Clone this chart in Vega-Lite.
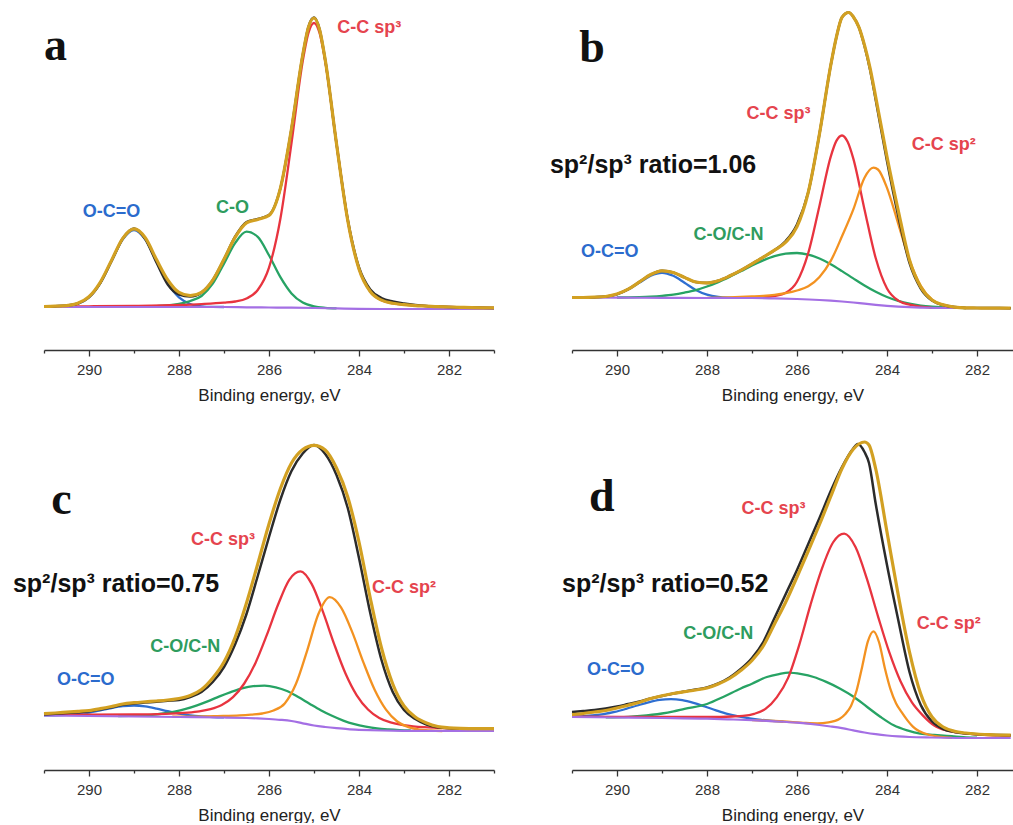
{
"$schema": "https://vega.github.io/schema/vega-lite/v6.json",
"padding": {"left": 12, "top": 6, "right": 0, "bottom": 0},
"background": "white",
"config": {"view": {"stroke": null}, "font": "Liberation Sans"},
"columns": 2,
"spacing": {"row": 80, "column": 78},
"bounds": "flush",
"datasets": {
"curves": [
{"p":"a","s":"bg","e":291,"v":43},{"p":"a","s":"bg","e":290,"v":43},{"p":"a","s":"bg","e":289,"v":43},{"p":"a","s":"bg","e":288,"v":43},{"p":"a","s":"bg","e":287,"v":43},{"p":"a","s":"bg","e":286.5,"v":42.7},{"p":"a","s":"bg","e":286,"v":42.5},{"p":"a","s":"bg","e":285.5,"v":42.3},{"p":"a","s":"bg","e":285,"v":42},{"p":"a","s":"bg","e":284.5,"v":41.6},{"p":"a","s":"bg","e":284,"v":41.2},{"p":"a","s":"bg","e":283.5,"v":41},{"p":"a","s":"bg","e":282,"v":41},{"p":"a","s":"bg","e":281,"v":41},
{"p":"a","s":"occ","e":290.75,"v":43.1},{"p":"a","s":"occ","e":290.5,"v":43.7},{"p":"a","s":"occ","e":290.25,"v":46},{"p":"a","s":"occ","e":290,"v":52.6},{"p":"a","s":"occ","e":289.75,"v":66.9},{"p":"a","s":"occ","e":289.5,"v":88.7},{"p":"a","s":"occ","e":289.25,"v":110.6},{"p":"a","s":"occ","e":289,"v":120},{"p":"a","s":"occ","e":288.75,"v":110.6},{"p":"a","s":"occ","e":288.5,"v":88.7},{"p":"a","s":"occ","e":288.25,"v":66.9},{"p":"a","s":"occ","e":288,"v":52.6},{"p":"a","s":"occ","e":287.75,"v":46},{"p":"a","s":"occ","e":287.5,"v":43.7},{"p":"a","s":"occ","e":287.25,"v":43.1},{"p":"a","s":"occ","e":287,"v":43},
{"p":"a","s":"co","e":289,"v":43.2},{"p":"a","s":"co","e":288.75,"v":43.5},{"p":"a","s":"co","e":288.5,"v":43.9},{"p":"a","s":"co","e":288.25,"v":44.5},{"p":"a","s":"co","e":288,"v":46},{"p":"a","s":"co","e":287.75,"v":49},{"p":"a","s":"co","e":287.5,"v":54},{"p":"a","s":"co","e":287.25,"v":66.3},{"p":"a","s":"co","e":287,"v":86.4},{"p":"a","s":"co","e":286.75,"v":107.1},{"p":"a","s":"co","e":286.5,"v":118.3},{"p":"a","s":"co","e":286.25,"v":113.2},{"p":"a","s":"co","e":286,"v":94.7},{"p":"a","s":"co","e":285.75,"v":73.1},{"p":"a","s":"co","e":285.5,"v":56.6},{"p":"a","s":"co","e":285.25,"v":47.4},{"p":"a","s":"co","e":285,"v":43.6},{"p":"a","s":"co","e":284.75,"v":42.2},{"p":"a","s":"co","e":284.5,"v":41.7},
{"p":"a","s":"sp3","e":291,"v":43.5},{"p":"a","s":"sp3","e":290,"v":43.7},{"p":"a","s":"sp3","e":289,"v":44.1},{"p":"a","s":"sp3","e":288,"v":45},{"p":"a","s":"sp3","e":287.5,"v":45.9},{"p":"a","s":"sp3","e":287,"v":47.3},{"p":"a","s":"sp3","e":286.75,"v":48.5},{"p":"a","s":"sp3","e":286.5,"v":51.5},{"p":"a","s":"sp3","e":286.25,"v":60},{"p":"a","s":"sp3","e":286,"v":82.4},{"p":"a","s":"sp3","e":285.75,"v":130.5},{"p":"a","s":"sp3","e":285.5,"v":207},{"p":"a","s":"sp3","e":285.25,"v":288.9},{"p":"a","s":"sp3","e":285.125,"v":316.9},{"p":"a","s":"sp3","e":285,"v":327},{"p":"a","s":"sp3","e":284.875,"v":316.7},{"p":"a","s":"sp3","e":284.75,"v":288.6},{"p":"a","s":"sp3","e":284.5,"v":206.3},{"p":"a","s":"sp3","e":284.25,"v":129.5},{"p":"a","s":"sp3","e":284,"v":81.1},{"p":"a","s":"sp3","e":283.75,"v":58.5},{"p":"a","s":"sp3","e":283.5,"v":49.8},{"p":"a","s":"sp3","e":283.25,"v":46.7},{"p":"a","s":"sp3","e":283,"v":45.3},{"p":"a","s":"sp3","e":282.75,"v":44.4},{"p":"a","s":"sp3","e":282.5,"v":43.9},{"p":"a","s":"sp3","e":282.25,"v":43.3},{"p":"a","s":"sp3","e":282,"v":43},{"p":"a","s":"sp3","e":281.5,"v":42.4},{"p":"a","s":"sp3","e":281,"v":42.1},
{"p":"a","s":"exp","e":291,"v":43.5},{"p":"a","s":"exp","e":290.75,"v":43.8},{"p":"a","s":"exp","e":290.5,"v":44.4},{"p":"a","s":"exp","e":290.25,"v":46.5},{"p":"a","s":"exp","e":290,"v":52.8},{"p":"a","s":"exp","e":289.75,"v":67},{"p":"a","s":"exp","e":289.5,"v":89},{"p":"a","s":"exp","e":289.25,"v":111.5},{"p":"a","s":"exp","e":289,"v":121.5},{"p":"a","s":"exp","e":288.75,"v":111},{"p":"a","s":"exp","e":288.5,"v":87.5},{"p":"a","s":"exp","e":288.25,"v":65.5},{"p":"a","s":"exp","e":288,"v":55.5},{"p":"a","s":"exp","e":287.75,"v":53.5},{"p":"a","s":"exp","e":287.5,"v":57.6},{"p":"a","s":"exp","e":287.25,"v":69.8},{"p":"a","s":"exp","e":287,"v":90.7},{"p":"a","s":"exp","e":286.75,"v":113.5},{"p":"a","s":"exp","e":286.5,"v":128},{"p":"a","s":"exp","e":286.25,"v":131},{"p":"a","s":"exp","e":286,"v":135},{"p":"a","s":"exp","e":285.75,"v":161.2},{"p":"a","s":"exp","e":285.5,"v":221.3},{"p":"a","s":"exp","e":285.25,"v":295},{"p":"a","s":"exp","e":285.125,"v":323},{"p":"a","s":"exp","e":285,"v":332.5},{"p":"a","s":"exp","e":284.875,"v":320.5},{"p":"a","s":"exp","e":284.75,"v":290},{"p":"a","s":"exp","e":284.5,"v":206.3},{"p":"a","s":"exp","e":284.25,"v":130.5},{"p":"a","s":"exp","e":284,"v":82.5},{"p":"a","s":"exp","e":283.75,"v":60.5},{"p":"a","s":"exp","e":283.5,"v":52},{"p":"a","s":"exp","e":283.25,"v":48.5},{"p":"a","s":"exp","e":283,"v":46.5},{"p":"a","s":"exp","e":282.75,"v":45},{"p":"a","s":"exp","e":282.5,"v":44},{"p":"a","s":"exp","e":282.25,"v":43.4},{"p":"a","s":"exp","e":282,"v":43},{"p":"a","s":"exp","e":281.75,"v":42.7},{"p":"a","s":"exp","e":281.5,"v":42.4},{"p":"a","s":"exp","e":281.25,"v":42.2},{"p":"a","s":"exp","e":281,"v":42.1},
{"p":"a","s":"fit","e":291,"v":43.5},{"p":"a","s":"fit","e":290.75,"v":43.8},{"p":"a","s":"fit","e":290.5,"v":44.4},{"p":"a","s":"fit","e":290.25,"v":46.7},{"p":"a","s":"fit","e":290,"v":53.3},{"p":"a","s":"fit","e":289.75,"v":67.7},{"p":"a","s":"fit","e":289.5,"v":89.6},{"p":"a","s":"fit","e":289.25,"v":111.6},{"p":"a","s":"fit","e":289,"v":121.1},{"p":"a","s":"fit","e":288.75,"v":112.3},{"p":"a","s":"fit","e":288.5,"v":90.4},{"p":"a","s":"fit","e":288.25,"v":70.1},{"p":"a","s":"fit","e":288,"v":57.6},{"p":"a","s":"fit","e":287.75,"v":54.3},{"p":"a","s":"fit","e":287.5,"v":57.6},{"p":"a","s":"fit","e":287.25,"v":69.8},{"p":"a","s":"fit","e":287,"v":90.7},{"p":"a","s":"fit","e":286.75,"v":112.8},{"p":"a","s":"fit","e":286.5,"v":127.1},{"p":"a","s":"fit","e":286.25,"v":130.6},{"p":"a","s":"fit","e":286,"v":134.6},{"p":"a","s":"fit","e":285.75,"v":161.2},{"p":"a","s":"fit","e":285.5,"v":221.3},{"p":"a","s":"fit","e":285.25,"v":295},{"p":"a","s":"fit","e":285.125,"v":322.5},{"p":"a","s":"fit","e":285,"v":332},{"p":"a","s":"fit","e":284.875,"v":320},{"p":"a","s":"fit","e":284.75,"v":290},{"p":"a","s":"fit","e":284.5,"v":206.3},{"p":"a","s":"fit","e":284.25,"v":129.5},{"p":"a","s":"fit","e":284,"v":81.1},{"p":"a","s":"fit","e":283.75,"v":58.5},{"p":"a","s":"fit","e":283.5,"v":49.8},{"p":"a","s":"fit","e":283.25,"v":46.7},{"p":"a","s":"fit","e":283,"v":45.3},{"p":"a","s":"fit","e":282.75,"v":44.4},{"p":"a","s":"fit","e":282.5,"v":43.9},{"p":"a","s":"fit","e":282.25,"v":43.3},{"p":"a","s":"fit","e":282,"v":43},{"p":"a","s":"fit","e":281.75,"v":42.7},{"p":"a","s":"fit","e":281.5,"v":42.4},{"p":"a","s":"fit","e":281.25,"v":42.2},{"p":"a","s":"fit","e":281,"v":42.1},

{"p":"b","s":"bg","e":291,"v":52.5},{"p":"b","s":"bg","e":290,"v":52.3},{"p":"b","s":"bg","e":289,"v":52.2},{"p":"b","s":"bg","e":288,"v":52},{"p":"b","s":"bg","e":287,"v":52},{"p":"b","s":"bg","e":286.5,"v":51.6},{"p":"b","s":"bg","e":286,"v":51},{"p":"b","s":"bg","e":285.5,"v":50},{"p":"b","s":"bg","e":285.25,"v":49.3},{"p":"b","s":"bg","e":285,"v":48.5},{"p":"b","s":"bg","e":284.75,"v":47.5},{"p":"b","s":"bg","e":284.5,"v":46.3},{"p":"b","s":"bg","e":284.25,"v":45.2},{"p":"b","s":"bg","e":284,"v":44.2},{"p":"b","s":"bg","e":283.75,"v":43.4},{"p":"b","s":"bg","e":283.5,"v":42.8},{"p":"b","s":"bg","e":283.25,"v":42.4},{"p":"b","s":"bg","e":283,"v":42.2},{"p":"b","s":"bg","e":282.5,"v":42},{"p":"b","s":"bg","e":282,"v":42},{"p":"b","s":"bg","e":281.25,"v":41.8},
{"p":"b","s":"occ","e":290.75,"v":52.3},{"p":"b","s":"occ","e":290.5,"v":52.6},{"p":"b","s":"occ","e":290.25,"v":53.4},{"p":"b","s":"occ","e":290,"v":55.7},{"p":"b","s":"occ","e":289.75,"v":60.4},{"p":"b","s":"occ","e":289.5,"v":67.4},{"p":"b","s":"occ","e":289.25,"v":74.3},{"p":"b","s":"occ","e":289,"v":77.2},{"p":"b","s":"occ","e":288.75,"v":74.2},{"p":"b","s":"occ","e":288.5,"v":67.3},{"p":"b","s":"occ","e":288.25,"v":60.1},{"p":"b","s":"occ","e":288,"v":55.4},{"p":"b","s":"occ","e":287.75,"v":53.1},{"p":"b","s":"occ","e":287.5,"v":52.3},{"p":"b","s":"occ","e":287.25,"v":52.05},
{"p":"b","s":"co","e":290,"v":52.5},{"p":"b","s":"co","e":289.75,"v":52.6},{"p":"b","s":"co","e":289.5,"v":52.9},{"p":"b","s":"co","e":289.25,"v":53.4},{"p":"b","s":"co","e":289,"v":54.2},{"p":"b","s":"co","e":288.75,"v":55.4},{"p":"b","s":"co","e":288.5,"v":57.4},{"p":"b","s":"co","e":288.25,"v":59.9},{"p":"b","s":"co","e":288,"v":63.5},{"p":"b","s":"co","e":287.75,"v":67.9},{"p":"b","s":"co","e":287.5,"v":73.1},{"p":"b","s":"co","e":287.25,"v":78.7},{"p":"b","s":"co","e":287,"v":84.5},{"p":"b","s":"co","e":286.75,"v":89.6},{"p":"b","s":"co","e":286.5,"v":93.8},{"p":"b","s":"co","e":286.25,"v":96.3},{"p":"b","s":"co","e":286,"v":97},{"p":"b","s":"co","e":285.75,"v":95.4},{"p":"b","s":"co","e":285.5,"v":91.5},{"p":"b","s":"co","e":285.25,"v":85.8},{"p":"b","s":"co","e":285,"v":78.9},{"p":"b","s":"co","e":284.75,"v":71.6},{"p":"b","s":"co","e":284.5,"v":64.5},{"p":"b","s":"co","e":284.25,"v":58.2},{"p":"b","s":"co","e":284,"v":53},{"p":"b","s":"co","e":283.75,"v":49.1},{"p":"b","s":"co","e":283.5,"v":46.3},{"p":"b","s":"co","e":283.25,"v":44.4},{"p":"b","s":"co","e":283,"v":43.3},{"p":"b","s":"co","e":282.75,"v":42.7},{"p":"b","s":"co","e":282.5,"v":42.3},{"p":"b","s":"co","e":282.25,"v":42},
{"p":"b","s":"sp3","e":287,"v":52.2},{"p":"b","s":"sp3","e":286.75,"v":52.8},{"p":"b","s":"sp3","e":286.5,"v":54.1},{"p":"b","s":"sp3","e":286.25,"v":57.3},{"p":"b","s":"sp3","e":286,"v":68.3},{"p":"b","s":"sp3","e":285.75,"v":97},{"p":"b","s":"sp3","e":285.5,"v":144.3},{"p":"b","s":"sp3","e":285.25,"v":193.4},{"p":"b","s":"sp3","e":285.125,"v":209.1},{"p":"b","s":"sp3","e":285,"v":214.5},{"p":"b","s":"sp3","e":284.875,"v":208.2},{"p":"b","s":"sp3","e":284.75,"v":191.6},{"p":"b","s":"sp3","e":284.5,"v":140.6},{"p":"b","s":"sp3","e":284.25,"v":91.7},{"p":"b","s":"sp3","e":284,"v":61.5},{"p":"b","s":"sp3","e":283.75,"v":49.4},{"p":"b","s":"sp3","e":283.5,"v":45.3},{"p":"b","s":"sp3","e":283.25,"v":43.4},{"p":"b","s":"sp3","e":283,"v":42.2},
{"p":"b","s":"sp2","e":288,"v":52.2},{"p":"b","s":"sp2","e":287.5,"v":52.6},{"p":"b","s":"sp2","e":287,"v":53.5},{"p":"b","s":"sp2","e":286.75,"v":54.1},{"p":"b","s":"sp2","e":286.5,"v":55.1},{"p":"b","s":"sp2","e":286.25,"v":56.8},{"p":"b","s":"sp2","e":286,"v":59.5},{"p":"b","s":"sp2","e":285.75,"v":63.7},{"p":"b","s":"sp2","e":285.5,"v":73.1},{"p":"b","s":"sp2","e":285.25,"v":89.1},{"p":"b","s":"sp2","e":285,"v":113.7},{"p":"b","s":"sp2","e":284.75,"v":140.3},{"p":"b","s":"sp2","e":284.5,"v":172.3},{"p":"b","s":"sp2","e":284.3,"v":182.4},{"p":"b","s":"sp2","e":284.2,"v":180.5},{"p":"b","s":"sp2","e":284,"v":162.2},{"p":"b","s":"sp2","e":283.75,"v":126.2},{"p":"b","s":"sp2","e":283.5,"v":89.9},{"p":"b","s":"sp2","e":283.25,"v":64.2},{"p":"b","s":"sp2","e":283,"v":50.4},{"p":"b","s":"sp2","e":282.75,"v":44.6},{"p":"b","s":"sp2","e":282.5,"v":42.6},{"p":"b","s":"sp2","e":282.25,"v":42},
{"p":"b","s":"exp","e":291,"v":52.5},{"p":"b","s":"exp","e":290.75,"v":52.5},{"p":"b","s":"exp","e":290.5,"v":52.8},{"p":"b","s":"exp","e":290.25,"v":53.5},{"p":"b","s":"exp","e":290,"v":55.9},{"p":"b","s":"exp","e":289.75,"v":60.8},{"p":"b","s":"exp","e":289.5,"v":68.1},{"p":"b","s":"exp","e":289.25,"v":75.5},{"p":"b","s":"exp","e":289,"v":79.2},{"p":"b","s":"exp","e":288.75,"v":77.5},{"p":"b","s":"exp","e":288.5,"v":72.6},{"p":"b","s":"exp","e":288.25,"v":68},{"p":"b","s":"exp","e":288,"v":67.1},{"p":"b","s":"exp","e":287.75,"v":69.3},{"p":"b","s":"exp","e":287.5,"v":74},{"p":"b","s":"exp","e":287.25,"v":79.7},{"p":"b","s":"exp","e":287,"v":86.1},{"p":"b","s":"exp","e":286.75,"v":92.9},{"p":"b","s":"exp","e":286.5,"v":99.8},{"p":"b","s":"exp","e":286.25,"v":109},{"p":"b","s":"exp","e":286,"v":125.5},{"p":"b","s":"exp","e":285.75,"v":157.7},{"p":"b","s":"exp","e":285.5,"v":216.2},{"p":"b","s":"exp","e":285.25,"v":284.7},{"p":"b","s":"exp","e":285.125,"v":312.8},{"p":"b","s":"exp","e":285,"v":332.7},{"p":"b","s":"exp","e":284.85,"v":337.5},{"p":"b","s":"exp","e":284.75,"v":333.3},{"p":"b","s":"exp","e":284.625,"v":322.8},{"p":"b","s":"exp","e":284.5,"v":304},{"p":"b","s":"exp","e":284.375,"v":280},{"p":"b","s":"exp","e":284.25,"v":250},{"p":"b","s":"exp","e":284,"v":189},{"p":"b","s":"exp","e":283.75,"v":134},{"p":"b","s":"exp","e":283.5,"v":87},{"p":"b","s":"exp","e":283.25,"v":61.5},{"p":"b","s":"exp","e":283,"v":49.5},{"p":"b","s":"exp","e":282.75,"v":45},{"p":"b","s":"exp","e":282.5,"v":42.9},{"p":"b","s":"exp","e":282.25,"v":42.1},{"p":"b","s":"exp","e":282,"v":42},{"p":"b","s":"exp","e":281.5,"v":41.9},{"p":"b","s":"exp","e":281.25,"v":41.8},
{"p":"b","s":"fit","e":291,"v":52.5},{"p":"b","s":"fit","e":290.75,"v":52.5},{"p":"b","s":"fit","e":290.5,"v":52.8},{"p":"b","s":"fit","e":290.25,"v":53.5},{"p":"b","s":"fit","e":290,"v":55.9},{"p":"b","s":"fit","e":289.75,"v":60.8},{"p":"b","s":"fit","e":289.5,"v":68.1},{"p":"b","s":"fit","e":289.25,"v":75.5},{"p":"b","s":"fit","e":289,"v":79.2},{"p":"b","s":"fit","e":288.75,"v":77.5},{"p":"b","s":"fit","e":288.5,"v":72.6},{"p":"b","s":"fit","e":288.25,"v":68},{"p":"b","s":"fit","e":288,"v":67.1},{"p":"b","s":"fit","e":287.75,"v":69.3},{"p":"b","s":"fit","e":287.5,"v":74},{"p":"b","s":"fit","e":287.25,"v":79.7},{"p":"b","s":"fit","e":287,"v":86.1},{"p":"b","s":"fit","e":286.75,"v":92.9},{"p":"b","s":"fit","e":286.5,"v":99.8},{"p":"b","s":"fit","e":286.25,"v":107.8},{"p":"b","s":"fit","e":286,"v":123.3},{"p":"b","s":"fit","e":285.75,"v":157.7},{"p":"b","s":"fit","e":285.5,"v":216.2},{"p":"b","s":"fit","e":285.25,"v":284.7},{"p":"b","s":"fit","e":285.125,"v":312.8},{"p":"b","s":"fit","e":285,"v":332.7},{"p":"b","s":"fit","e":284.85,"v":337.5},{"p":"b","s":"fit","e":284.75,"v":333.3},{"p":"b","s":"fit","e":284.625,"v":322.8},{"p":"b","s":"fit","e":284.5,"v":304.8},{"p":"b","s":"fit","e":284.375,"v":281.7},{"p":"b","s":"fit","e":284.25,"v":252.8},{"p":"b","s":"fit","e":284,"v":193.3},{"p":"b","s":"fit","e":283.75,"v":139.5},{"p":"b","s":"fit","e":283.5,"v":90},{"p":"b","s":"fit","e":283.25,"v":63},{"p":"b","s":"fit","e":283,"v":50},{"p":"b","s":"fit","e":282.75,"v":45.2},{"p":"b","s":"fit","e":282.5,"v":42.9},{"p":"b","s":"fit","e":282.25,"v":42.1},{"p":"b","s":"fit","e":282,"v":42},{"p":"b","s":"fit","e":281.75,"v":41.9},{"p":"b","s":"fit","e":281.5,"v":41.9},{"p":"b","s":"fit","e":281.25,"v":41.8},

{"p":"c","s":"bg","e":291,"v":54.5},{"p":"c","s":"bg","e":290,"v":54},{"p":"c","s":"bg","e":289,"v":53.5},{"p":"c","s":"bg","e":288,"v":53},{"p":"c","s":"bg","e":287,"v":52.5},{"p":"c","s":"bg","e":286.5,"v":52},{"p":"c","s":"bg","e":286.25,"v":51.6},{"p":"c","s":"bg","e":286,"v":51},{"p":"c","s":"bg","e":285.75,"v":50.2},{"p":"c","s":"bg","e":285.5,"v":49},{"p":"c","s":"bg","e":285.25,"v":46.7},{"p":"c","s":"bg","e":285,"v":44.5},{"p":"c","s":"bg","e":284.75,"v":43},{"p":"c","s":"bg","e":284.5,"v":41.8},{"p":"c","s":"bg","e":284.25,"v":40.8},{"p":"c","s":"bg","e":284,"v":40.2},{"p":"c","s":"bg","e":283.75,"v":39.8},{"p":"c","s":"bg","e":283.5,"v":39.5},{"p":"c","s":"bg","e":283,"v":39.2},{"p":"c","s":"bg","e":282,"v":39},{"p":"c","s":"bg","e":281,"v":39},
{"p":"c","s":"occ","e":291,"v":54.6},{"p":"c","s":"occ","e":290.75,"v":54.7},{"p":"c","s":"occ","e":290.5,"v":55.05},{"p":"c","s":"occ","e":290.25,"v":55.8},{"p":"c","s":"occ","e":290,"v":57.4},{"p":"c","s":"occ","e":289.75,"v":59.6},{"p":"c","s":"occ","e":289.5,"v":61.95},{"p":"c","s":"occ","e":289.25,"v":63.8},{"p":"c","s":"occ","e":289,"v":64.5},{"p":"c","s":"occ","e":288.75,"v":63.6},{"p":"c","s":"occ","e":288.5,"v":61.45},{"p":"c","s":"occ","e":288.25,"v":58.8},{"p":"c","s":"occ","e":288,"v":56.4},{"p":"c","s":"occ","e":287.75,"v":54.6},{"p":"c","s":"occ","e":287.5,"v":53.55},{"p":"c","s":"occ","e":287.25,"v":52.9},{"p":"c","s":"occ","e":287,"v":52.6},
{"p":"c","s":"co","e":289.35,"v":53.9},{"p":"c","s":"co","e":289.1,"v":54.05},{"p":"c","s":"co","e":288.85,"v":54.5},{"p":"c","s":"co","e":288.6,"v":55.2},{"p":"c","s":"co","e":288.35,"v":56.5},{"p":"c","s":"co","e":288.1,"v":58.4},{"p":"c","s":"co","e":287.85,"v":61.1},{"p":"c","s":"co","e":287.6,"v":64.7},{"p":"c","s":"co","e":287.35,"v":68.9},{"p":"c","s":"co","e":287.1,"v":73.6},{"p":"c","s":"co","e":286.85,"v":77.9},{"p":"c","s":"co","e":286.6,"v":81.6},{"p":"c","s":"co","e":286.35,"v":83.8},{"p":"c","s":"co","e":286.1,"v":84.3},{"p":"c","s":"co","e":285.85,"v":82.7},{"p":"c","s":"co","e":285.6,"v":79},{"p":"c","s":"co","e":285.35,"v":73},{"p":"c","s":"co","e":285.1,"v":66.3},{"p":"c","s":"co","e":284.85,"v":59.8},{"p":"c","s":"co","e":284.6,"v":54.2},{"p":"c","s":"co","e":284.35,"v":49.4},{"p":"c","s":"co","e":284.1,"v":45.8},{"p":"c","s":"co","e":283.85,"v":43.3},{"p":"c","s":"co","e":283.6,"v":41.5},{"p":"c","s":"co","e":283.35,"v":40.5},{"p":"c","s":"co","e":283.1,"v":39.85},{"p":"c","s":"co","e":282.85,"v":39.5},
{"p":"c","s":"sp3","e":291,"v":55.4},{"p":"c","s":"sp3","e":290,"v":55.3},{"p":"c","s":"sp3","e":289,"v":55.5},{"p":"c","s":"sp3","e":288.3,"v":56.2},{"p":"c","s":"sp3","e":288.05,"v":56.7},{"p":"c","s":"sp3","e":287.8,"v":57.4},{"p":"c","s":"sp3","e":287.55,"v":58.6},{"p":"c","s":"sp3","e":287.3,"v":60.8},{"p":"c","s":"sp3","e":287.05,"v":64.9},{"p":"c","s":"sp3","e":286.8,"v":72.8},{"p":"c","s":"sp3","e":286.55,"v":86.5},{"p":"c","s":"sp3","e":286.3,"v":107.1},{"p":"c","s":"sp3","e":286.05,"v":134.8},{"p":"c","s":"sp3","e":285.8,"v":165.2},{"p":"c","s":"sp3","e":285.55,"v":190.2},{"p":"c","s":"sp3","e":285.3,"v":198.6},{"p":"c","s":"sp3","e":285.05,"v":185.9},{"p":"c","s":"sp3","e":284.8,"v":158.1},{"p":"c","s":"sp3","e":284.55,"v":125.7},{"p":"c","s":"sp3","e":284.3,"v":96.5},{"p":"c","s":"sp3","e":284.05,"v":74.7},{"p":"c","s":"sp3","e":283.8,"v":60.5},{"p":"c","s":"sp3","e":283.55,"v":52},{"p":"c","s":"sp3","e":283.3,"v":47.6},{"p":"c","s":"sp3","e":283.05,"v":45.05},{"p":"c","s":"sp3","e":282.8,"v":43.7},{"p":"c","s":"sp3","e":282.55,"v":42.8},{"p":"c","s":"sp3","e":282.3,"v":42.2},{"p":"c","s":"sp3","e":281.8,"v":41.3},{"p":"c","s":"sp3","e":281.3,"v":40.8},{"p":"c","s":"sp3","e":281,"v":40.6},
{"p":"c","s":"sp2","e":288.15,"v":53.3},{"p":"c","s":"sp2","e":287.65,"v":53.4},{"p":"c","s":"sp2","e":287.15,"v":53.9},{"p":"c","s":"sp2","e":286.65,"v":54.6},{"p":"c","s":"sp2","e":286.4,"v":55.4},{"p":"c","s":"sp2","e":286.15,"v":56.5},{"p":"c","s":"sp2","e":285.9,"v":59.5},{"p":"c","s":"sp2","e":285.65,"v":66.6},{"p":"c","s":"sp2","e":285.4,"v":86.2},{"p":"c","s":"sp2","e":285.15,"v":119.7},{"p":"c","s":"sp2","e":284.9,"v":156.2},{"p":"c","s":"sp2","e":284.65,"v":172.9},{"p":"c","s":"sp2","e":284.4,"v":162.6},{"p":"c","s":"sp2","e":284.15,"v":137.9},{"p":"c","s":"sp2","e":283.9,"v":107.4},{"p":"c","s":"sp2","e":283.65,"v":80},{"p":"c","s":"sp2","e":283.4,"v":60.3},{"p":"c","s":"sp2","e":283.15,"v":48.5},{"p":"c","s":"sp2","e":282.9,"v":42.8},{"p":"c","s":"sp2","e":282.65,"v":40.3},{"p":"c","s":"sp2","e":282.4,"v":39.5},{"p":"c","s":"sp2","e":282.15,"v":39},
{"p":"c","s":"exp","e":291,"v":55.5},{"p":"c","s":"exp","e":290.75,"v":56.2},{"p":"c","s":"exp","e":290.5,"v":57},{"p":"c","s":"exp","e":290.25,"v":57.8},{"p":"c","s":"exp","e":290,"v":58.7},{"p":"c","s":"exp","e":289.75,"v":60.5},{"p":"c","s":"exp","e":289.5,"v":62.7},{"p":"c","s":"exp","e":289.25,"v":65.2},{"p":"c","s":"exp","e":289,"v":66.5},{"p":"c","s":"exp","e":288.75,"v":67.4},{"p":"c","s":"exp","e":288.5,"v":68.2},{"p":"c","s":"exp","e":288.25,"v":69.2},{"p":"c","s":"exp","e":288,"v":70},{"p":"c","s":"exp","e":287.75,"v":73},{"p":"c","s":"exp","e":287.5,"v":78},{"p":"c","s":"exp","e":287.25,"v":88},{"p":"c","s":"exp","e":287,"v":103},{"p":"c","s":"exp","e":286.75,"v":126},{"p":"c","s":"exp","e":286.5,"v":156},{"p":"c","s":"exp","e":286.25,"v":194},{"p":"c","s":"exp","e":286,"v":233},{"p":"c","s":"exp","e":285.75,"v":270},{"p":"c","s":"exp","e":285.5,"v":299},{"p":"c","s":"exp","e":285.25,"v":316.5},{"p":"c","s":"exp","e":285,"v":325},{"p":"c","s":"exp","e":284.75,"v":316},{"p":"c","s":"exp","e":284.5,"v":295},{"p":"c","s":"exp","e":284.25,"v":262},{"p":"c","s":"exp","e":284,"v":212},{"p":"c","s":"exp","e":283.75,"v":157},{"p":"c","s":"exp","e":283.5,"v":110},{"p":"c","s":"exp","e":283.25,"v":78},{"p":"c","s":"exp","e":283,"v":60},{"p":"c","s":"exp","e":282.75,"v":51},{"p":"c","s":"exp","e":282.5,"v":45.5},{"p":"c","s":"exp","e":282.25,"v":42.8},{"p":"c","s":"exp","e":282,"v":41.8},{"p":"c","s":"exp","e":281.75,"v":41.5},{"p":"c","s":"exp","e":281.5,"v":41.3},{"p":"c","s":"exp","e":281.25,"v":41.2},{"p":"c","s":"exp","e":281,"v":41.2},
{"p":"c","s":"fit","e":291,"v":56.3},{"p":"c","s":"fit","e":290.75,"v":57},{"p":"c","s":"fit","e":290.5,"v":57.8},{"p":"c","s":"fit","e":290.25,"v":58.6},{"p":"c","s":"fit","e":290,"v":59.5},{"p":"c","s":"fit","e":289.75,"v":61.3},{"p":"c","s":"fit","e":289.5,"v":63.5},{"p":"c","s":"fit","e":289.25,"v":66},{"p":"c","s":"fit","e":289,"v":67.3},{"p":"c","s":"fit","e":288.75,"v":68.2},{"p":"c","s":"fit","e":288.5,"v":69},{"p":"c","s":"fit","e":288.25,"v":70},{"p":"c","s":"fit","e":288,"v":71.5},{"p":"c","s":"fit","e":287.75,"v":74.5},{"p":"c","s":"fit","e":287.5,"v":80.5},{"p":"c","s":"fit","e":287.25,"v":92},{"p":"c","s":"fit","e":287,"v":108},{"p":"c","s":"fit","e":286.75,"v":133},{"p":"c","s":"fit","e":286.5,"v":167},{"p":"c","s":"fit","e":286.25,"v":206},{"p":"c","s":"fit","e":286,"v":246},{"p":"c","s":"fit","e":285.75,"v":281},{"p":"c","s":"fit","e":285.5,"v":307},{"p":"c","s":"fit","e":285.25,"v":320.5},{"p":"c","s":"fit","e":285,"v":324.7},{"p":"c","s":"fit","e":284.75,"v":320},{"p":"c","s":"fit","e":284.5,"v":302},{"p":"c","s":"fit","e":284.25,"v":273},{"p":"c","s":"fit","e":284,"v":228},{"p":"c","s":"fit","e":283.75,"v":172},{"p":"c","s":"fit","e":283.5,"v":122},{"p":"c","s":"fit","e":283.25,"v":86},{"p":"c","s":"fit","e":283,"v":64},{"p":"c","s":"fit","e":282.75,"v":53},{"p":"c","s":"fit","e":282.5,"v":47},{"p":"c","s":"fit","e":282.25,"v":43.5},{"p":"c","s":"fit","e":282,"v":42.2},{"p":"c","s":"fit","e":281.75,"v":41.6},{"p":"c","s":"fit","e":281.5,"v":41.4},{"p":"c","s":"fit","e":281.25,"v":41.3},{"p":"c","s":"fit","e":281,"v":41.3},

{"p":"d","s":"bg","e":291,"v":53},{"p":"d","s":"bg","e":290,"v":52.5},{"p":"d","s":"bg","e":289,"v":52},{"p":"d","s":"bg","e":288,"v":51.3},{"p":"d","s":"bg","e":287.5,"v":50.6},{"p":"d","s":"bg","e":287,"v":49.8},{"p":"d","s":"bg","e":286.5,"v":48.7},{"p":"d","s":"bg","e":286,"v":47.3},{"p":"d","s":"bg","e":285.5,"v":45},{"p":"d","s":"bg","e":285.25,"v":43.5},{"p":"d","s":"bg","e":285,"v":41.8},{"p":"d","s":"bg","e":284.75,"v":39.6},{"p":"d","s":"bg","e":284.5,"v":37.5},{"p":"d","s":"bg","e":284.25,"v":35.8},{"p":"d","s":"bg","e":284,"v":34.5},{"p":"d","s":"bg","e":283.75,"v":33.6},{"p":"d","s":"bg","e":283.5,"v":33},{"p":"d","s":"bg","e":283,"v":32.5},{"p":"d","s":"bg","e":282,"v":32},{"p":"d","s":"bg","e":281.25,"v":32},
{"p":"d","s":"occ","e":291,"v":53.5},{"p":"d","s":"occ","e":290.8,"v":53.7},{"p":"d","s":"occ","e":290.55,"v":54.5},{"p":"d","s":"occ","e":290.3,"v":55.95},{"p":"d","s":"occ","e":290.05,"v":58.1},{"p":"d","s":"occ","e":289.8,"v":61.1},{"p":"d","s":"occ","e":289.55,"v":64.5},{"p":"d","s":"occ","e":289.3,"v":67.7},{"p":"d","s":"occ","e":289.05,"v":70.1},{"p":"d","s":"occ","e":288.8,"v":70.9},{"p":"d","s":"occ","e":288.55,"v":69.8},{"p":"d","s":"occ","e":288.3,"v":67.1},{"p":"d","s":"occ","e":288.05,"v":63.5},{"p":"d","s":"occ","e":287.8,"v":59.7},{"p":"d","s":"occ","e":287.55,"v":56.2},{"p":"d","s":"occ","e":287.3,"v":53.55},{"p":"d","s":"occ","e":287.05,"v":51.6},{"p":"d","s":"occ","e":286.8,"v":50.2},{"p":"d","s":"occ","e":286.55,"v":49.2},{"p":"d","s":"occ","e":286.3,"v":48.3},
{"p":"d","s":"co","e":290.25,"v":52.7},{"p":"d","s":"co","e":289.75,"v":53.2},{"p":"d","s":"co","e":289.48,"v":54},{"p":"d","s":"co","e":289,"v":56.5},{"p":"d","s":"co","e":288.74,"v":58.7},{"p":"d","s":"co","e":288.5,"v":61.2},{"p":"d","s":"co","e":288,"v":66},{"p":"d","s":"co","e":287.63,"v":73.3},{"p":"d","s":"co","e":287.26,"v":81.3},{"p":"d","s":"co","e":287,"v":86.3},{"p":"d","s":"co","e":286.67,"v":93},{"p":"d","s":"co","e":286.4,"v":95.9},{"p":"d","s":"co","e":286.19,"v":97.3},{"p":"d","s":"co","e":285.9,"v":95.8},{"p":"d","s":"co","e":285.63,"v":93},{"p":"d","s":"co","e":285.35,"v":88.1},{"p":"d","s":"co","e":285.04,"v":81.3},{"p":"d","s":"co","e":284.75,"v":73.5},{"p":"d","s":"co","e":284.44,"v":63},{"p":"d","s":"co","e":284.15,"v":53.3},{"p":"d","s":"co","e":283.85,"v":44.7},{"p":"d","s":"co","e":283.55,"v":39.6},{"p":"d","s":"co","e":283.26,"v":36.3},{"p":"d","s":"co","e":282.95,"v":35},{"p":"d","s":"co","e":282.67,"v":34},{"p":"d","s":"co","e":282.3,"v":32.9},{"p":"d","s":"co","e":282,"v":32.3},
{"p":"d","s":"sp3","e":291,"v":53.4},{"p":"d","s":"sp3","e":289.95,"v":53.1},{"p":"d","s":"sp3","e":288.95,"v":53},{"p":"d","s":"sp3","e":287.95,"v":53},{"p":"d","s":"sp3","e":287.45,"v":53.5},{"p":"d","s":"sp3","e":287.2,"v":54.1},{"p":"d","s":"sp3","e":286.95,"v":56.2},{"p":"d","s":"sp3","e":286.7,"v":61.1},{"p":"d","s":"sp3","e":286.45,"v":72.6},{"p":"d","s":"sp3","e":286.2,"v":91.9},{"p":"d","s":"sp3","e":285.95,"v":125.2},{"p":"d","s":"sp3","e":285.7,"v":165.2},{"p":"d","s":"sp3","e":285.45,"v":200.9},{"p":"d","s":"sp3","e":285.2,"v":227.5},{"p":"d","s":"sp3","e":284.95,"v":236.4},{"p":"d","s":"sp3","e":284.7,"v":223},{"p":"d","s":"sp3","e":284.45,"v":191.6},{"p":"d","s":"sp3","e":284.2,"v":153.7},{"p":"d","s":"sp3","e":283.95,"v":117.8},{"p":"d","s":"sp3","e":283.7,"v":88.7},{"p":"d","s":"sp3","e":283.45,"v":67.8},{"p":"d","s":"sp3","e":283.2,"v":54.4},{"p":"d","s":"sp3","e":282.95,"v":44.5},{"p":"d","s":"sp3","e":282.7,"v":39.8},{"p":"d","s":"sp3","e":282.45,"v":37.7},{"p":"d","s":"sp3","e":282.2,"v":36.4},{"p":"d","s":"sp3","e":281.95,"v":35.5},{"p":"d","s":"sp3","e":281.45,"v":34.5},{"p":"d","s":"sp3","e":281.25,"v":34.2},
{"p":"d","s":"sp2","e":287,"v":49.9},{"p":"d","s":"sp2","e":286.3,"v":48.5},{"p":"d","s":"sp2","e":285.8,"v":47},{"p":"d","s":"sp2","e":285.55,"v":46.7},{"p":"d","s":"sp2","e":285.3,"v":47.6},{"p":"d","s":"sp2","e":285.05,"v":51.2},{"p":"d","s":"sp2","e":284.925,"v":56},{"p":"d","s":"sp2","e":284.8,"v":64.1},{"p":"d","s":"sp2","e":284.675,"v":79.5},{"p":"d","s":"sp2","e":284.55,"v":103.6},{"p":"d","s":"sp2","e":284.425,"v":128.6},{"p":"d","s":"sp2","e":284.3,"v":138.7},{"p":"d","s":"sp2","e":284.175,"v":127.5},{"p":"d","s":"sp2","e":284.05,"v":102.3},{"p":"d","s":"sp2","e":283.925,"v":81.1},{"p":"d","s":"sp2","e":283.8,"v":66.8},{"p":"d","s":"sp2","e":283.675,"v":57.8},{"p":"d","s":"sp2","e":283.55,"v":49.9},{"p":"d","s":"sp2","e":283.425,"v":43.4},{"p":"d","s":"sp2","e":283.3,"v":39.2},{"p":"d","s":"sp2","e":283.05,"v":35},{"p":"d","s":"sp2","e":282.8,"v":33.2},{"p":"d","s":"sp2","e":282.55,"v":32.2},
{"p":"d","s":"exp","e":291,"v":58},{"p":"d","s":"exp","e":290.75,"v":59},{"p":"d","s":"exp","e":290.5,"v":60},{"p":"d","s":"exp","e":290.25,"v":61.5},{"p":"d","s":"exp","e":290,"v":63.5},{"p":"d","s":"exp","e":289.75,"v":66},{"p":"d","s":"exp","e":289.5,"v":68.5},{"p":"d","s":"exp","e":289.25,"v":71.5},{"p":"d","s":"exp","e":289,"v":74},{"p":"d","s":"exp","e":288.75,"v":76.5},{"p":"d","s":"exp","e":288.5,"v":78.5},{"p":"d","s":"exp","e":288.25,"v":80.5},{"p":"d","s":"exp","e":288,"v":82.5},{"p":"d","s":"exp","e":287.75,"v":86.5},{"p":"d","s":"exp","e":287.5,"v":92.5},{"p":"d","s":"exp","e":287.25,"v":101},{"p":"d","s":"exp","e":287,"v":112},{"p":"d","s":"exp","e":286.75,"v":128},{"p":"d","s":"exp","e":286.5,"v":152},{"p":"d","s":"exp","e":286.25,"v":176},{"p":"d","s":"exp","e":286,"v":200},{"p":"d","s":"exp","e":285.75,"v":226},{"p":"d","s":"exp","e":285.5,"v":252},{"p":"d","s":"exp","e":285.25,"v":279},{"p":"d","s":"exp","e":285,"v":303},{"p":"d","s":"exp","e":284.75,"v":321.5},{"p":"d","s":"exp","e":284.65,"v":326},{"p":"d","s":"exp","e":284.5,"v":318},{"p":"d","s":"exp","e":284.4,"v":307},{"p":"d","s":"exp","e":284.25,"v":266},{"p":"d","s":"exp","e":284,"v":205},{"p":"d","s":"exp","e":283.75,"v":150},{"p":"d","s":"exp","e":283.5,"v":98},{"p":"d","s":"exp","e":283.25,"v":65},{"p":"d","s":"exp","e":283,"v":48.5},{"p":"d","s":"exp","e":282.75,"v":41},{"p":"d","s":"exp","e":282.5,"v":38},{"p":"d","s":"exp","e":282.25,"v":36.5},{"p":"d","s":"exp","e":282,"v":35.7},{"p":"d","s":"exp","e":281.5,"v":35},{"p":"d","s":"exp","e":281.25,"v":34.8},
{"p":"d","s":"fit","e":291,"v":55.3},{"p":"d","s":"fit","e":290.75,"v":56.5},{"p":"d","s":"fit","e":290.5,"v":58},{"p":"d","s":"fit","e":290.25,"v":59.5},{"p":"d","s":"fit","e":290,"v":62},{"p":"d","s":"fit","e":289.75,"v":64.8},{"p":"d","s":"fit","e":289.5,"v":67.8},{"p":"d","s":"fit","e":289.25,"v":71.5},{"p":"d","s":"fit","e":289,"v":74.3},{"p":"d","s":"fit","e":288.75,"v":76.5},{"p":"d","s":"fit","e":288.5,"v":78.3},{"p":"d","s":"fit","e":288.25,"v":80},{"p":"d","s":"fit","e":288,"v":82},{"p":"d","s":"fit","e":287.75,"v":86},{"p":"d","s":"fit","e":287.5,"v":91.5},{"p":"d","s":"fit","e":287.25,"v":99.5},{"p":"d","s":"fit","e":287,"v":109.5},{"p":"d","s":"fit","e":286.75,"v":124},{"p":"d","s":"fit","e":286.5,"v":146},{"p":"d","s":"fit","e":286.25,"v":168},{"p":"d","s":"fit","e":286,"v":193},{"p":"d","s":"fit","e":285.75,"v":219},{"p":"d","s":"fit","e":285.5,"v":245.5},{"p":"d","s":"fit","e":285.25,"v":273.5},{"p":"d","s":"fit","e":285,"v":301.5},{"p":"d","s":"fit","e":284.75,"v":320.8},{"p":"d","s":"fit","e":284.5,"v":328},{"p":"d","s":"fit","e":284.4,"v":325},{"p":"d","s":"fit","e":284.25,"v":301},{"p":"d","s":"fit","e":284,"v":238},{"p":"d","s":"fit","e":283.75,"v":175},{"p":"d","s":"fit","e":283.5,"v":118},{"p":"d","s":"fit","e":283.25,"v":76},{"p":"d","s":"fit","e":283,"v":53},{"p":"d","s":"fit","e":282.75,"v":43},{"p":"d","s":"fit","e":282.5,"v":38.7},{"p":"d","s":"fit","e":282.25,"v":37},{"p":"d","s":"fit","e":282,"v":36},{"p":"d","s":"fit","e":281.75,"v":35.4},{"p":"d","s":"fit","e":281.5,"v":35},{"p":"d","s":"fit","e":281.25,"v":34.8}
],
"labels": [
{"p":"a","k":"L","t":"a","e":291,"v":290},
{"p":"a","k":"r","t":"C-C sp³","e":283.77,"v":317},
{"p":"a","k":"b","t":"O-C=O","e":289.5,"v":133},
{"p":"a","k":"g","t":"C-O","e":286.81,"v":137},
{"p":"b","k":"L","t":"b","e":290.84,"v":288},
{"p":"b","k":"R","t":"sp²/sp³ ratio=1.06","e":291.49,"v":177},
{"p":"b","k":"r","t":"C-C sp³","e":286.41,"v":231},
{"p":"b","k":"r","t":"C-C sp²","e":282.74,"v":200},
{"p":"b","k":"g","t":"C-O/C-N","e":287.52,"v":110},
{"p":"b","k":"b","t":"O-C=O","e":290.16,"v":93},
{"p":"c","k":"L","t":"c","e":290.84,"v":256},
{"p":"c","k":"R","t":"sp²/sp³ ratio=0.75","e":291.69,"v":178},
{"p":"c","k":"r","t":"C-C sp³","e":287.02,"v":225},
{"p":"c","k":"r","t":"C-C sp²","e":283.0,"v":177},
{"p":"c","k":"g","t":"C-O/C-N","e":287.86,"v":118},
{"p":"c","k":"b","t":"O-C=O","e":290.07,"v":85},
{"p":"d","k":"L","t":"d","e":290.62,"v":259},
{"p":"d","k":"R","t":"sp²/sp³ ratio=0.52","e":291.22,"v":178},
{"p":"d","k":"r","t":"C-C sp³","e":286.52,"v":256},
{"p":"d","k":"r","t":"C-C sp²","e":282.63,"v":141},
{"p":"d","k":"g","t":"C-O/C-N","e":287.75,"v":131},
{"p":"d","k":"b","t":"O-C=O","e":290.03,"v":95}
]
},
"concat": [
{"width": 450, "height": 340, "data": {"name": "curves"}, "transform": [{"filter": "datum.p === 'a'"}],
 "encoding": {
  "x": {"field": "e", "type": "quantitative", "scale": {"domain": [281, 291], "reverse": true, "nice": false, "zero": false},
   "axis": {"values": [291,290,289,288,287,286,285,284,283,282,281], "title": "Binding energy, eV", "grid": false, "labelExpr": "datum.value % 2 === 0 ? datum.label : ''", "tickSize": {"condition": {"test": "datum.value % 2 === 0", "value": 6}, "value": 3}, "labelFlush": false, "labelOverlap": false, "labelFontSize": 15, "titleFontSize": 17, "titleFontWeight": "normal", "labelPadding": 6, "titlePadding": 10, "domainColor": "#333", "tickColor": "#333", "labelColor": "#333", "titleColor": "#222", "domainWidth": 1.5, "tickWidth": 1.3}},
  "y": {"field": "v", "type": "quantitative", "scale": {"domain": [0, 340], "nice": false, "zero": false}, "axis": null}},
 "resolve": {"scale": {"color": "independent"}},
 "layer": [
  {"transform": [{"filter": "datum.s === 'sp3' || datum.s === 'sp2' || datum.s === 'co' || datum.s === 'occ'"}], "mark": {"type": "line", "interpolate": "monotone", "strokeWidth": 2.3}, "encoding": {"color": {"field": "s", "type": "nominal", "scale": {"domain": ["sp3","sp2","co","occ"], "range": ["#E8343F","#F39221","#27A364","#2F6FD1"]}, "legend": null}}},
  {"transform": [{"filter": "datum.s === 'bg'"}], "mark": {"type": "line", "interpolate": "monotone", "strokeWidth": 2.2, "color": "#A46FE4"}},
  {"transform": [{"filter": "datum.s === 'exp'"}], "mark": {"type": "line", "interpolate": "monotone", "strokeWidth": 2.5, "color": "#2b2b2b"}},
  {"transform": [{"filter": "datum.s === 'fit'"}], "mark": {"type": "line", "interpolate": "monotone", "strokeWidth": 3.2, "color": "#D2A022"}},
  {"data": {"name": "labels"}, "transform": [{"filter": "datum.p === 'a' && datum.k === 'L'"}], "mark": {"type": "text", "font": "Liberation Serif", "fontWeight": "bold", "fontSize": 46, "align": "left", "baseline": "alphabetic", "color": "#111"}, "encoding": {"text": {"field": "t"}}},
  {"data": {"name": "labels"}, "transform": [{"filter": "datum.p === 'a' && datum.k === 'R'"}], "mark": {"type": "text", "fontWeight": "bold", "fontSize": 25, "align": "left", "baseline": "alphabetic", "color": "#111"}, "encoding": {"text": {"field": "t"}}},
  {"data": {"name": "labels"}, "transform": [{"filter": "datum.p === 'a' && (datum.k === 'r' || datum.k === 'g' || datum.k === 'b')"}], "mark": {"type": "text", "fontWeight": "bold", "fontSize": 18, "align": "center", "baseline": "alphabetic"}, "encoding": {"text": {"field": "t"}, "color": {"field": "k", "type": "nominal", "scale": {"domain": ["r","g","b"], "range": ["#E5444E","#2E9C5E","#2B6BCD"]}, "legend": null}}}
 ]},
{"width": 441, "height": 340, "data": {"name": "curves"}, "transform": [{"filter": "datum.p === 'b'"}],
 "encoding": {
  "x": {"field": "e", "type": "quantitative", "scale": {"domain": [281.2, 291], "reverse": true, "nice": false, "zero": false},
   "axis": {"values": [291,290,289,288,287,286,285,284,283,282], "title": "Binding energy, eV", "grid": false, "labelExpr": "datum.value % 2 === 0 ? datum.label : ''", "tickSize": {"condition": {"test": "datum.value % 2 === 0", "value": 6}, "value": 3}, "labelFlush": false, "labelOverlap": false, "labelFontSize": 15, "titleFontSize": 17, "titleFontWeight": "normal", "labelPadding": 6, "titlePadding": 10, "domainColor": "#333", "tickColor": "#333", "labelColor": "#333", "titleColor": "#222", "domainWidth": 1.5, "tickWidth": 1.3}},
  "y": {"field": "v", "type": "quantitative", "scale": {"domain": [0, 340], "nice": false, "zero": false}, "axis": null}},
 "resolve": {"scale": {"color": "independent"}},
 "layer": [
  {"transform": [{"filter": "datum.s === 'sp3' || datum.s === 'sp2' || datum.s === 'co' || datum.s === 'occ'"}], "mark": {"type": "line", "interpolate": "monotone", "strokeWidth": 2.3}, "encoding": {"color": {"field": "s", "type": "nominal", "scale": {"domain": ["sp3","sp2","co","occ"], "range": ["#E8343F","#F39221","#27A364","#2F6FD1"]}, "legend": null}}},
  {"transform": [{"filter": "datum.s === 'bg'"}], "mark": {"type": "line", "interpolate": "monotone", "strokeWidth": 2.2, "color": "#A46FE4"}},
  {"transform": [{"filter": "datum.s === 'exp'"}], "mark": {"type": "line", "interpolate": "monotone", "strokeWidth": 2.5, "color": "#2b2b2b"}},
  {"transform": [{"filter": "datum.s === 'fit'"}], "mark": {"type": "line", "interpolate": "monotone", "strokeWidth": 3.2, "color": "#D2A022"}},
  {"data": {"name": "labels"}, "transform": [{"filter": "datum.p === 'b' && datum.k === 'L'"}], "mark": {"type": "text", "font": "Liberation Serif", "fontWeight": "bold", "fontSize": 46, "align": "left", "baseline": "alphabetic", "color": "#111"}, "encoding": {"text": {"field": "t"}}},
  {"data": {"name": "labels"}, "transform": [{"filter": "datum.p === 'b' && datum.k === 'R'"}], "mark": {"type": "text", "fontWeight": "bold", "fontSize": 25, "align": "left", "baseline": "alphabetic", "color": "#111"}, "encoding": {"text": {"field": "t"}}},
  {"data": {"name": "labels"}, "transform": [{"filter": "datum.p === 'b' && (datum.k === 'r' || datum.k === 'g' || datum.k === 'b')"}], "mark": {"type": "text", "fontWeight": "bold", "fontSize": 18, "align": "center", "baseline": "alphabetic"}, "encoding": {"text": {"field": "t"}, "color": {"field": "k", "type": "nominal", "scale": {"domain": ["r","g","b"], "range": ["#E5444E","#2E9C5E","#2B6BCD"]}, "legend": null}}}
 ]},
{"width": 450, "height": 340, "data": {"name": "curves"}, "transform": [{"filter": "datum.p === 'c'"}],
 "encoding": {
  "x": {"field": "e", "type": "quantitative", "scale": {"domain": [281, 291], "reverse": true, "nice": false, "zero": false},
   "axis": {"values": [291,290,289,288,287,286,285,284,283,282,281], "title": "Binding energy, eV", "grid": false, "labelExpr": "datum.value % 2 === 0 ? datum.label : ''", "tickSize": {"condition": {"test": "datum.value % 2 === 0", "value": 6}, "value": 3}, "labelFlush": false, "labelOverlap": false, "labelFontSize": 15, "titleFontSize": 17, "titleFontWeight": "normal", "labelPadding": 6, "titlePadding": 10, "domainColor": "#333", "tickColor": "#333", "labelColor": "#333", "titleColor": "#222", "domainWidth": 1.5, "tickWidth": 1.3}},
  "y": {"field": "v", "type": "quantitative", "scale": {"domain": [0, 340], "nice": false, "zero": false}, "axis": null}},
 "resolve": {"scale": {"color": "independent"}},
 "layer": [
  {"transform": [{"filter": "datum.s === 'sp3' || datum.s === 'sp2' || datum.s === 'co' || datum.s === 'occ'"}], "mark": {"type": "line", "interpolate": "monotone", "strokeWidth": 2.3}, "encoding": {"color": {"field": "s", "type": "nominal", "scale": {"domain": ["sp3","sp2","co","occ"], "range": ["#E8343F","#F39221","#27A364","#2F6FD1"]}, "legend": null}}},
  {"transform": [{"filter": "datum.s === 'bg'"}], "mark": {"type": "line", "interpolate": "monotone", "strokeWidth": 2.2, "color": "#A46FE4"}},
  {"transform": [{"filter": "datum.s === 'exp'"}], "mark": {"type": "line", "interpolate": "monotone", "strokeWidth": 2.5, "color": "#2b2b2b"}},
  {"transform": [{"filter": "datum.s === 'fit'"}], "mark": {"type": "line", "interpolate": "monotone", "strokeWidth": 3.2, "color": "#D2A022"}},
  {"data": {"name": "labels"}, "transform": [{"filter": "datum.p === 'c' && datum.k === 'L'"}], "mark": {"type": "text", "font": "Liberation Serif", "fontWeight": "bold", "fontSize": 46, "align": "left", "baseline": "alphabetic", "color": "#111"}, "encoding": {"text": {"field": "t"}}},
  {"data": {"name": "labels"}, "transform": [{"filter": "datum.p === 'c' && datum.k === 'R'"}], "mark": {"type": "text", "fontWeight": "bold", "fontSize": 25, "align": "left", "baseline": "alphabetic", "color": "#111"}, "encoding": {"text": {"field": "t"}}},
  {"data": {"name": "labels"}, "transform": [{"filter": "datum.p === 'c' && (datum.k === 'r' || datum.k === 'g' || datum.k === 'b')"}], "mark": {"type": "text", "fontWeight": "bold", "fontSize": 18, "align": "center", "baseline": "alphabetic"}, "encoding": {"text": {"field": "t"}, "color": {"field": "k", "type": "nominal", "scale": {"domain": ["r","g","b"], "range": ["#E5444E","#2E9C5E","#2B6BCD"]}, "legend": null}}}
 ]},
{"width": 441, "height": 340, "data": {"name": "curves"}, "transform": [{"filter": "datum.p === 'd'"}],
 "encoding": {
  "x": {"field": "e", "type": "quantitative", "scale": {"domain": [281.2, 291], "reverse": true, "nice": false, "zero": false},
   "axis": {"values": [291,290,289,288,287,286,285,284,283,282], "title": "Binding energy, eV", "grid": false, "labelExpr": "datum.value % 2 === 0 ? datum.label : ''", "tickSize": {"condition": {"test": "datum.value % 2 === 0", "value": 6}, "value": 3}, "labelFlush": false, "labelOverlap": false, "labelFontSize": 15, "titleFontSize": 17, "titleFontWeight": "normal", "labelPadding": 6, "titlePadding": 10, "domainColor": "#333", "tickColor": "#333", "labelColor": "#333", "titleColor": "#222", "domainWidth": 1.5, "tickWidth": 1.3}},
  "y": {"field": "v", "type": "quantitative", "scale": {"domain": [0, 340], "nice": false, "zero": false}, "axis": null}},
 "resolve": {"scale": {"color": "independent"}},
 "layer": [
  {"transform": [{"filter": "datum.s === 'sp3' || datum.s === 'sp2' || datum.s === 'co' || datum.s === 'occ'"}], "mark": {"type": "line", "interpolate": "monotone", "strokeWidth": 2.3}, "encoding": {"color": {"field": "s", "type": "nominal", "scale": {"domain": ["sp3","sp2","co","occ"], "range": ["#E8343F","#F39221","#27A364","#2F6FD1"]}, "legend": null}}},
  {"transform": [{"filter": "datum.s === 'bg'"}], "mark": {"type": "line", "interpolate": "monotone", "strokeWidth": 2.2, "color": "#A46FE4"}},
  {"transform": [{"filter": "datum.s === 'exp'"}], "mark": {"type": "line", "interpolate": "monotone", "strokeWidth": 2.5, "color": "#2b2b2b"}},
  {"transform": [{"filter": "datum.s === 'fit'"}], "mark": {"type": "line", "interpolate": "monotone", "strokeWidth": 3.2, "color": "#D2A022"}},
  {"data": {"name": "labels"}, "transform": [{"filter": "datum.p === 'd' && datum.k === 'L'"}], "mark": {"type": "text", "font": "Liberation Serif", "fontWeight": "bold", "fontSize": 46, "align": "left", "baseline": "alphabetic", "color": "#111"}, "encoding": {"text": {"field": "t"}}},
  {"data": {"name": "labels"}, "transform": [{"filter": "datum.p === 'd' && datum.k === 'R'"}], "mark": {"type": "text", "fontWeight": "bold", "fontSize": 25, "align": "left", "baseline": "alphabetic", "color": "#111"}, "encoding": {"text": {"field": "t"}}},
  {"data": {"name": "labels"}, "transform": [{"filter": "datum.p === 'd' && (datum.k === 'r' || datum.k === 'g' || datum.k === 'b')"}], "mark": {"type": "text", "fontWeight": "bold", "fontSize": 18, "align": "center", "baseline": "alphabetic"}, "encoding": {"text": {"field": "t"}, "color": {"field": "k", "type": "nominal", "scale": {"domain": ["r","g","b"], "range": ["#E5444E","#2E9C5E","#2B6BCD"]}, "legend": null}}}
 ]}
]
}
